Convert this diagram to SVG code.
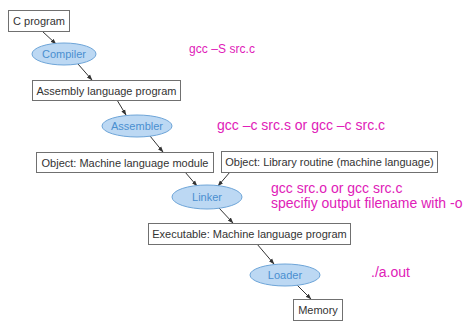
<svg xmlns="http://www.w3.org/2000/svg" width="468" height="322" viewBox="0 0 468 322">
<style>
.box rect{fill:#fff;stroke:#707070;stroke-width:1}
.box text{font-family:"Liberation Sans",Arial,sans-serif;font-size:11px;fill:#333;text-anchor:middle}
.proc ellipse{fill:#bcd8f3;stroke:#6ea5d8;stroke-width:1}
.proc text{font-family:"Liberation Sans",Arial,sans-serif;font-size:11px;fill:#4a8fd0;text-anchor:middle}
.cmd{font-family:"Liberation Sans",Arial,sans-serif;font-size:14px;fill:#e020b8}
#connectors line{stroke:#333;stroke-width:1;marker-end:url(#ah)}
</style>
<defs>
<marker id="ah" viewBox="0 0 10 10" refX="9" refY="5" markerWidth="6" markerHeight="6" orient="auto">
<path d="M0,1.5 L10,5 L0,8.5 z" fill="#333"/>
</marker>
</defs>
<rect width="468" height="322" fill="#fff"/>
<g id="connectors">
<line x1="42" y1="31" x2="56" y2="44"/>
<line x1="78" y1="64" x2="92" y2="80"/>
<line x1="117" y1="100" x2="126" y2="115"/>
<line x1="150" y1="136" x2="163" y2="152"/>
<line x1="185" y1="172" x2="197" y2="186"/>
<line x1="230" y1="172" x2="218" y2="186"/>
<line x1="219" y1="208" x2="233" y2="223"/>
<line x1="257" y1="244" x2="274" y2="264"/>
<line x1="297" y1="285" x2="311" y2="299"/>
</g>
<g id="cprogram" class="box"><rect x="8.5" y="10.5" width="61" height="21"/><text x="39" y="25">C program</text></g>
<g id="compiler" class="proc"><ellipse cx="64" cy="54" rx="32" ry="11"/><text x="64" y="58">Compiler</text></g>
<g id="asmprog" class="box"><rect x="32.5" y="80.5" width="148" height="20"/><text x="106.5" y="94.5">Assembly language program</text></g>
<g id="assembler" class="proc"><ellipse cx="137" cy="126" rx="35" ry="11"/><text x="137" y="130">Assembler</text></g>
<g id="objmodule" class="box"><rect x="36.5" y="152.5" width="177" height="20"/><text x="125" y="166.5">Object: Machine language module</text></g>
<g id="objlib" class="box"><rect x="221.5" y="151.5" width="216" height="21"/><text x="329.5" y="166">Object: Library routine (machine language)</text></g>
<g id="linker" class="proc"><ellipse cx="207" cy="197" rx="35" ry="12"/><text x="207" y="201">Linker</text></g>
<g id="executable" class="box"><rect x="148.5" y="223.5" width="202" height="21"/><text x="249.5" y="238">Executable: Machine language program</text></g>
<g id="loader" class="proc"><ellipse cx="285" cy="275" rx="35" ry="11"/><text x="285" y="279">Loader</text></g>
<g id="memory" class="box"><rect x="293.5" y="299.5" width="49" height="21"/><text x="318" y="314">Memory</text></g>
<text class="cmd" x="189" y="53" font-size="12" textLength="66" style="font-size:12px">gcc –S src.c</text>
<text class="cmd" x="217" y="130">gcc –c src.s or gcc –c src.c</text>
<text class="cmd" x="271" y="193">gcc src.o or gcc src.c</text>
<text class="cmd" x="271" y="208">specifiy output filename with -o</text>
<text class="cmd" x="371" y="277">./a.out</text>
</svg>
